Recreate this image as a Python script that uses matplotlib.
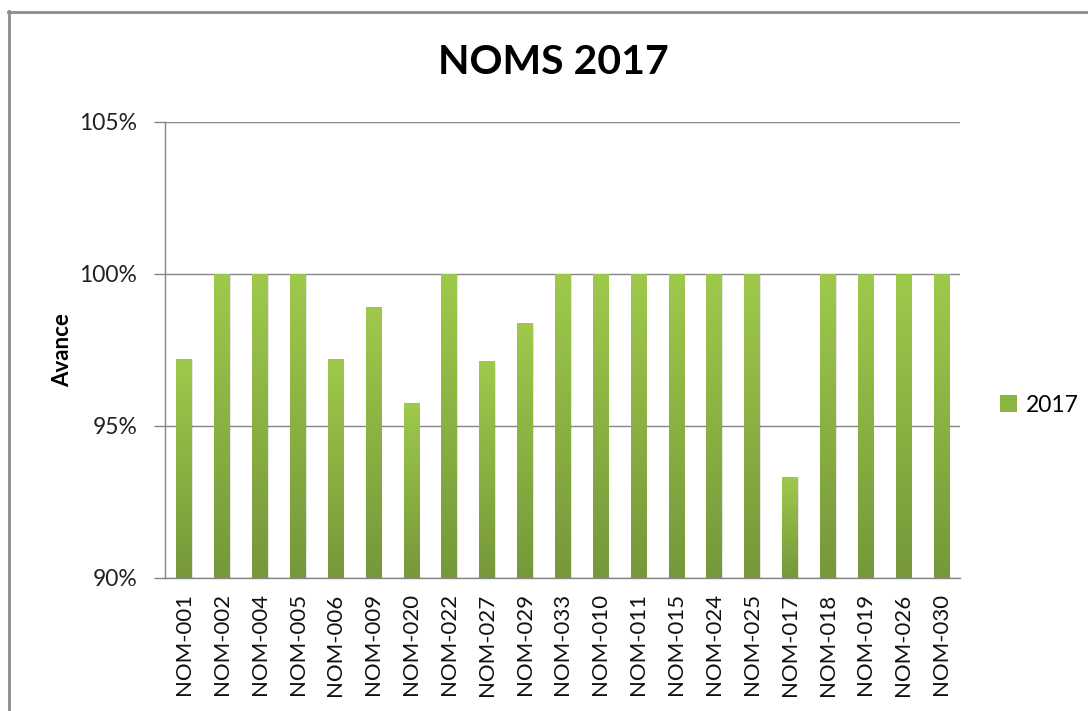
import numpy as np
import matplotlib
matplotlib.use("Agg")
import matplotlib.pyplot as plt
from matplotlib.colors import LinearSegmentedColormap
from matplotlib.lines import Line2D
from matplotlib.patches import Rectangle

categories = ["NOM-001", "NOM-002", "NOM-004", "NOM-005", "NOM-006", "NOM-009",
              "NOM-020", "NOM-022", "NOM-027", "NOM-029", "NOM-033", "NOM-010",
              "NOM-011", "NOM-015", "NOM-024", "NOM-025", "NOM-017", "NOM-018",
              "NOM-019", "NOM-026", "NOM-030"]
values_2017 = [97.2, 100, 100, 100, 97.2, 98.9, 95.76, 100, 97.15, 98.4, 100, 100,
               100, 100, 100, 100, 93.31, 100, 100, 100, 100]
y_ticks = [90, 95, 100, 105]
y_tick_labels = ["90%", "95%", "100%", "105%"]
series_name = "2017"

plt.rcParams['font.family'] = ['Lato', 'DejaVu Sans']

W, H = 1088, 711
fig = plt.figure(figsize=(W / 100, H / 100), dpi=100)
ax = fig.add_axes([165 / W, 1 - 578 / H, (960 - 165) / W, (578 - 122) / H])

x = np.arange(len(categories))
bars = ax.bar(x, np.array(values_2017) - 90, bottom=90, width=0.4,
              color='#8CB443', edgecolor='none', zorder=2, label=series_name)

cmap = LinearSegmentedColormap.from_list("g", ["#76983A", "#9FC94C"])
grad = np.linspace(0, 1, 256).reshape(-1, 1)
for b in bars:
    x0, y0 = b.get_x(), b.get_y()
    w, h = b.get_width(), b.get_height()
    sh = Rectangle((x0 + 0.04, y0), w, h - 0.03, facecolor='#000000', alpha=0.10,
                   edgecolor='none', zorder=1.5)
    ax.add_patch(sh)
    im = ax.imshow(grad, cmap=cmap, extent=(x0, x0 + w, y0, y0 + h),
                   origin='lower', aspect='auto', zorder=2.5)
    im.set_clip_path(b)

ax.set_xlim(-0.5, len(categories) - 0.5)
ax.set_ylim(90, 105)
ax.set_yticks(y_ticks)
ax.set_yticklabels(y_tick_labels, fontsize=16.5, color='#222222')
ax.set_xticks(x)
ax.set_xticklabels(categories, rotation=90, fontsize=16, color='#111111')
ax.tick_params(axis='x', length=0, pad=11)
ax.tick_params(axis='y', length=8, width=1, color='#868686', pad=12)

ax.yaxis.grid(True, color='#868686', linewidth=1)
ax.set_axisbelow(True)
for s in ['top', 'right']:
    ax.spines[s].set_visible(False)
for s in ['left', 'bottom']:
    ax.spines[s].set_color('#868686')
    ax.spines[s].set_linewidth(1)

ax.set_ylabel("Avance", fontsize=16, fontweight='bold')
ax.yaxis.set_label_coords((73 - 165) / 795, 0.5)

fig.text(553 / W, 1 - 62 / H, "NOMS 2017", ha='center', va='center',
         fontsize=29.5, fontweight='bold')

leg = fig.legend(handles=[Rectangle((0, 0), 1, 1, facecolor='#8CB443')],
                 labels=[series_name], loc='center left',
                 bbox_to_anchor=(1000 / W, 1 - 405 / H), frameon=False,
                 fontsize=16.5, handlelength=0.75, handleheight=0.75,
                 handletextpad=0.4, borderpad=0, borderaxespad=0)

fig.add_artist(Line2D([9 / W, 9 / W], [0, 1 - 11 / H], transform=fig.transFigure,
                      color='#8C8C8C', linewidth=2))
fig.add_artist(Line2D([8 / W, 1], [1 - 11.5 / H, 1 - 11.5 / H], transform=fig.transFigure,
                      color='#8C8C8C', linewidth=2))

fig.savefig("out.png", dpi=100)
